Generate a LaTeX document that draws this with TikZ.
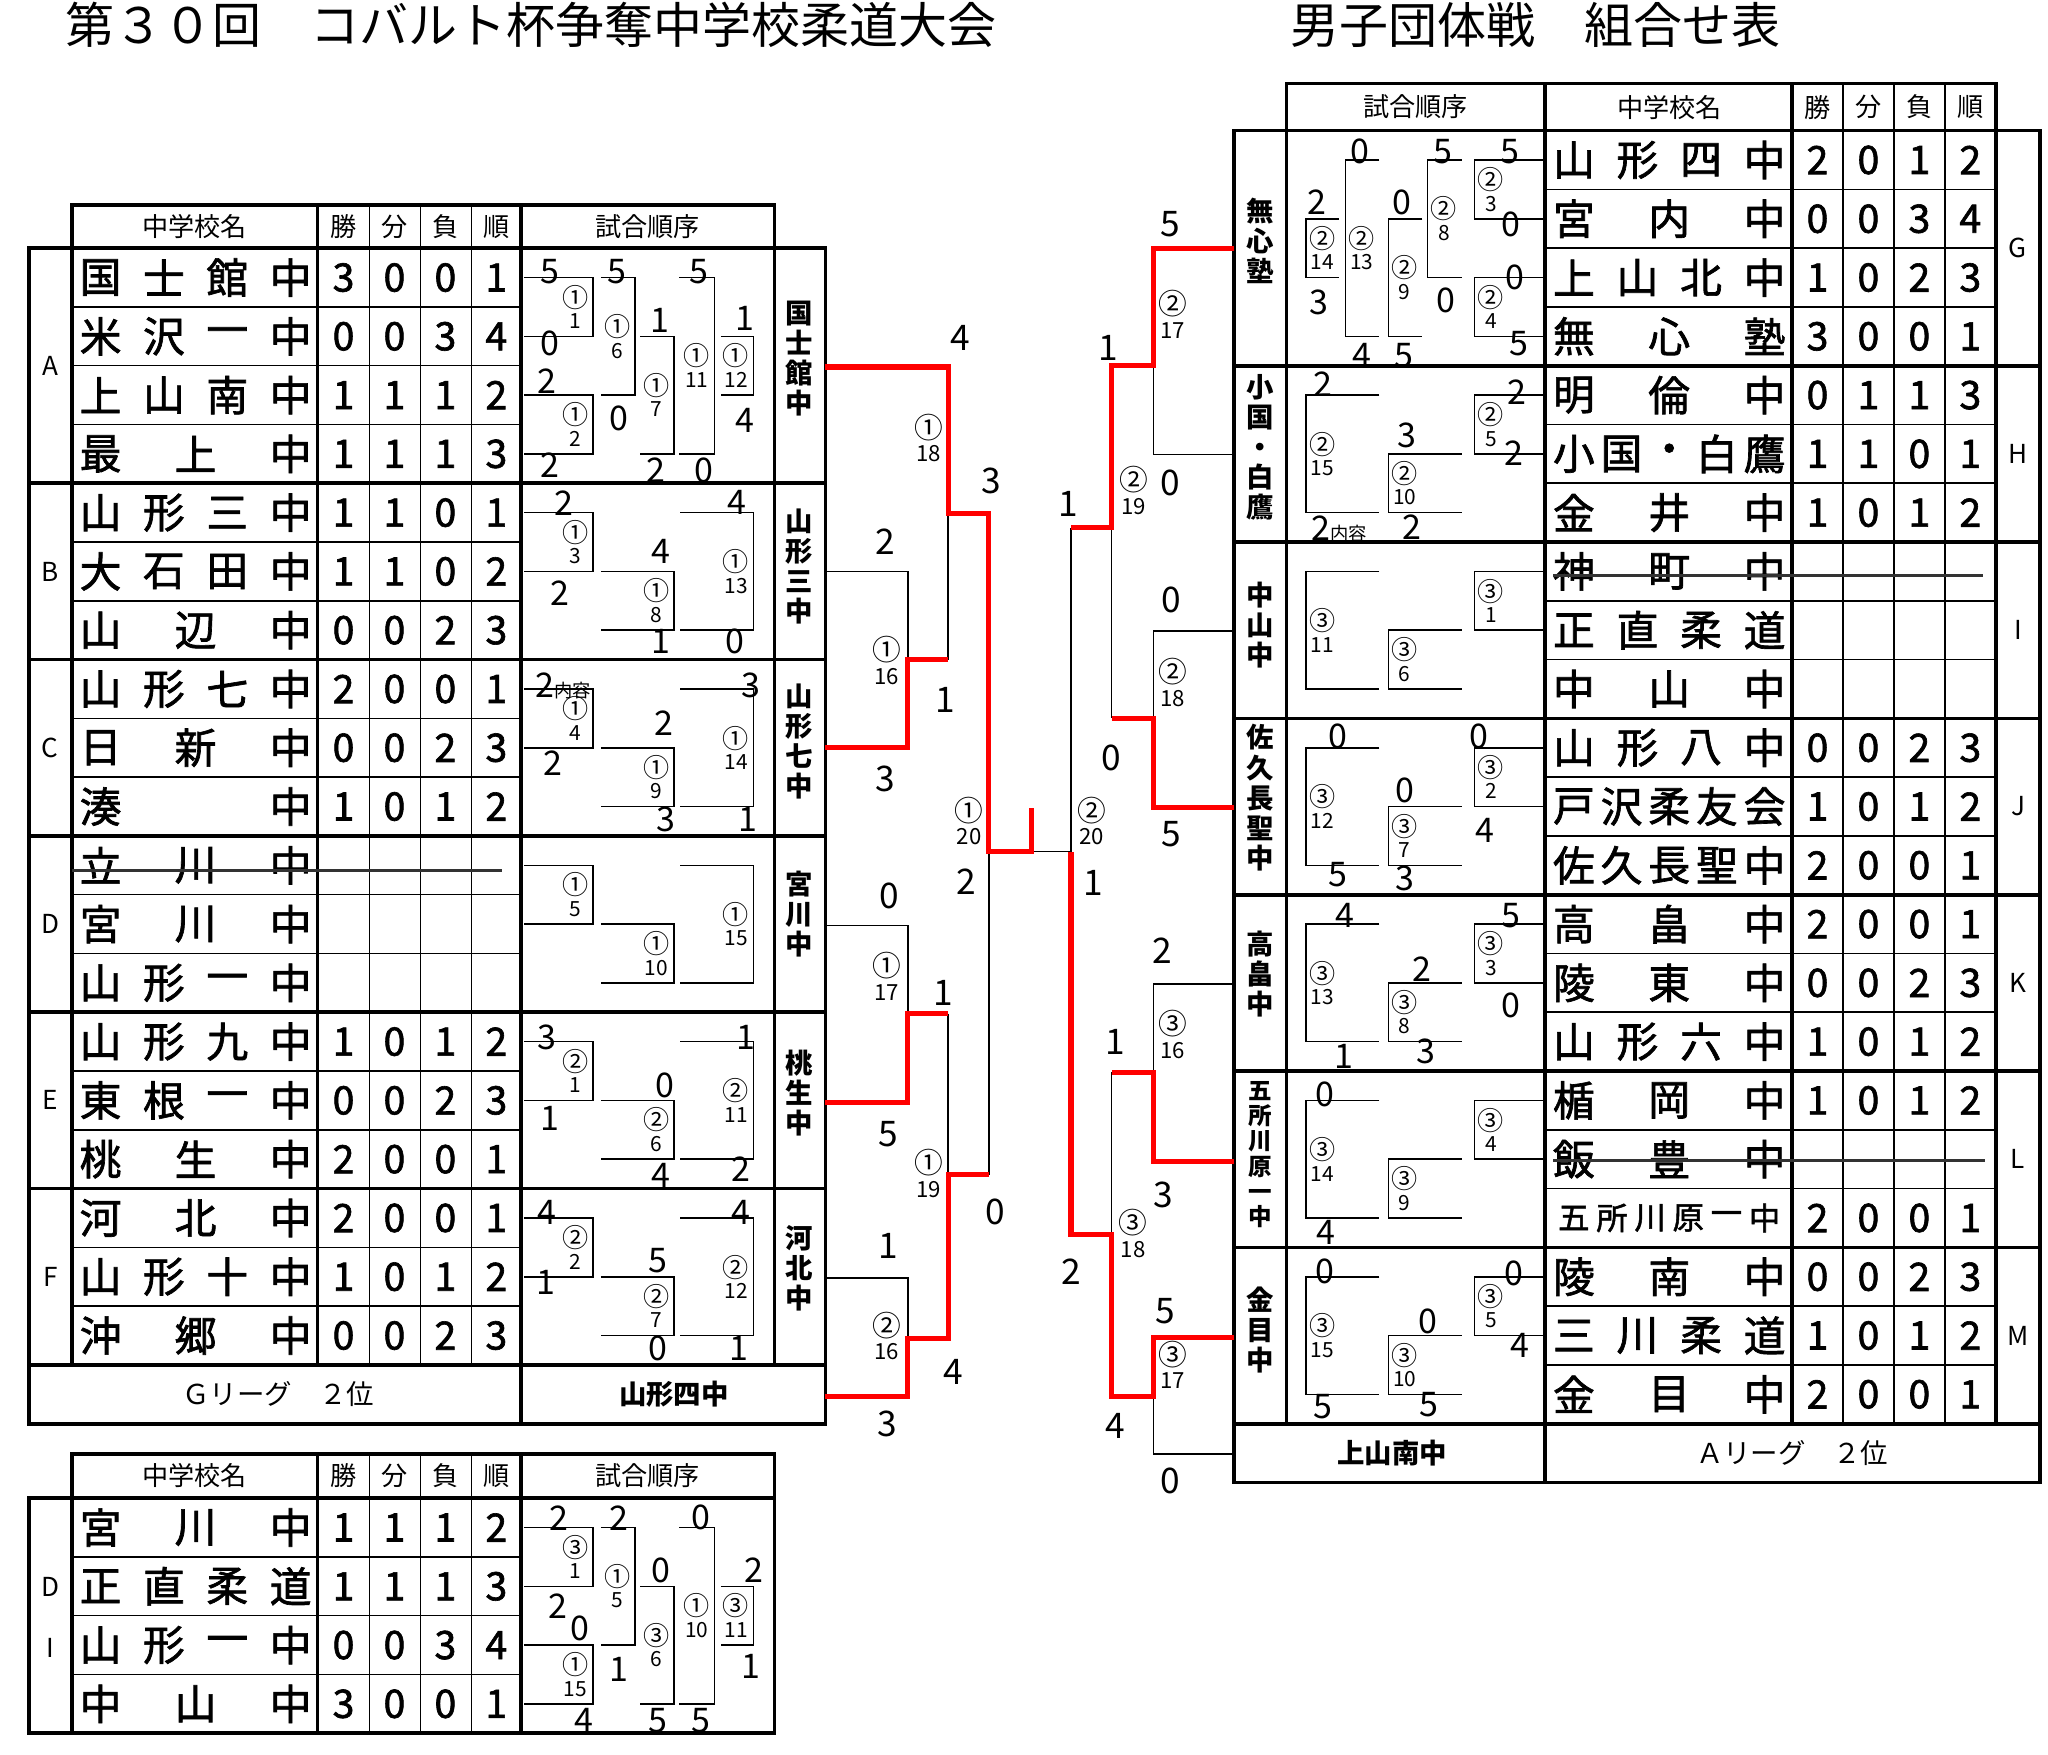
\documentclass[tikz,border=0pt]{standalone}
\usepackage{fontspec}
\setmainfont{Noto Sans CJK JP}
\newfontfamily\heavyfont{Noto Sans CJK JP}[FakeBold=1.6]
\definecolor{winred}{RGB}{255,0,0}
\newcommand{\tablecirc}{\fontsize{20}{16}\selectfont}
\newcommand{\centralcirc}{\fontsize{22}{18}\selectfont}

\tikzset{
  thickrule/.style={line width=2.8pt},
  thinrule/.style={line width=1.2pt},
  bracket/.style={line width=1.2pt},
  winline/.style={line width=4pt, draw=winred},
  strike/.style={line width=2.6pt, draw=black!80},
  schoolname/.style={inner sep=0pt, font=\heavyfont\fontsize{32}{32}\selectfont},
  smallname/.style={inner sep=0pt, font=\heavyfont\fontsize{24}{24}\selectfont},
  stat/.style={inner sep=0pt, font=\heavyfont\fontsize{30}{30}\selectfont},
  score/.style={inner sep=0pt, font=\fontsize{26}{26}\selectfont},
  bigscore/.style={inner sep=0pt, font=\fontsize{27}{27}\selectfont},
  matchno/.style={inner sep=0pt, align=center, font=\fontsize{16}{16.5}\selectfont},
  bigmatchno/.style={inner sep=0pt, align=center, font=\fontsize{17}{18}\selectfont},
  colhead/.style={inner sep=0pt, font=\fontsize{20}{20}\selectfont},
  vname/.style={inner sep=0pt, align=center, font=\bfseries\fontsize{21}{23}\selectfont},
  rowwin/.style={inner sep=0pt, font=\bfseries\fontsize{21}{21}\selectfont},
  league/.style={inner sep=0pt, font=\fontsize{21}{21}\selectfont},
  grp/.style={inner sep=0pt, font=\fontsize{20}{20}\selectfont},
  heading/.style={inner sep=0pt, anchor=west, font=\fontsize{37.5}{37.5}\selectfont},
}

% school name spread over its cell: [style] tag, x first, x last, y, count, chars
\newcommand{\namerow}[7][schoolname]{%
  \foreach \ch [count=\i] in {#7}
    \node[#1] (#2-\i) at ({#3+(\i-1)*(#4-#3)/(#6-1)},#5) {\ch};
}
% won / drawn / lost / place
\newcommand{\statrow}[4]{%
  \foreach \v [count=\i] in {#4}
    \node[stat] (#1-\i) at ({#2+(\i-1)*39},#3) {\v};
}
\newcommand{\lrow}[5]{\namerow{#1}{77}{222.5}{#2}{#3}{#4}\statrow{#1s}{263}{#2}{#5}}
\newcommand{\rrow}[5]{\namerow{#1}{1205}{1351}{#2}{#3}{#4}\statrow{#1s}{1391.5}{#2}{#5}}
% league bracket, open to the left / to the right
\newcommand{\lbr}[7]{%
  \coordinate (#1-top) at (#2,#4);
  \coordinate (#1-bot) at (#2,#5);
  \draw[bracket] (#1-top) -| (#3,#5) -- (#1-bot);
  \node[matchno] (#1) at ({#3-13.5},{(#4+#5)/2}) {{\tablecirc #6}\\#7};
}
\newcommand{\rbr}[7]{%
  \coordinate (#1-top) at (#3,#4);
  \coordinate (#1-bot) at (#3,#5);
  \draw[bracket] (#1-top) -| (#2,#5) -- (#1-bot);
  \node[matchno] (#1) at ({#2+12.5},{(#4+#5)/2}) {{\tablecirc #6}\\#7};
}

\begin{document}
\begin{tikzpicture}[x=1pt,y=-1pt]
  \useasboundingbox (0,0) rectangle (1568,1343);
  \fill[white] (0,0) rectangle (1568,1343);

  \node[heading] (title1) at (50,19) {第３０回　コバルト杯争奪中学校柔道大会};
  \node[heading] (title2) at (988,19) {男子団体戦　組合せ表};

  % left table
  \draw[thickrule] (55,157) rectangle (593,190);
  \draw[thickrule] (22,190) rectangle (632,1090);
  \foreach \x in {55,243,593} \draw[thickrule] (\x,157) -- (\x,1045);
  \draw[thickrule] (399,157) -- (399,1090);
  \foreach \x in {283,322,361} \draw[thinrule] (\x,157) -- (\x,1045);
  \foreach \y in {370,505,640,775,910,1045} \draw[thickrule] (22,\y) -- (632,\y);
  \foreach \y in {235,280,325,415,460,550,595,685,730,820,865,955,1000}
    \draw[thinrule] (55,\y) -- (399,\y);

  \node[colhead] (lhname) at (149,173.5) {中学校名};
  \foreach \t [count=\i] in {勝,分,負,順}
    \node[colhead] (lhs\i) at ({263+(\i-1)*39},173.5) {\t};
  \node[colhead] (lhorder) at (496,173.5) {試合順序};
  \foreach \g/\y in {A/280,B/437.5,C/572.5,D/707.5,E/842.5,F/977.5}
    \node[grp] (g\g) at (38.5,\y) {\g};

  \lrow{L1}{212.5}{4}{国,士,館,中}{3,0,0,1}
  \lrow{L2}{257.5}{4}{米,沢,一,中}{0,0,3,4}
  \lrow{L3}{302.5}{4}{上,山,南,中}{1,1,1,2}
  \lrow{L4}{347.5}{3}{最,上,中}{1,1,1,3}
  \lrow{L5}{392.5}{4}{山,形,三,中}{1,1,0,1}
  \lrow{L6}{437.5}{4}{大,石,田,中}{1,1,0,2}
  \lrow{L7}{482.5}{3}{山,辺,中}{0,0,2,3}
  \lrow{L8}{527.5}{4}{山,形,七,中}{2,0,0,1}
  \lrow{L9}{572.5}{3}{日,新,中}{0,0,2,3}
  \lrow{L10}{617.5}{2}{湊,中}{1,0,1,2}
  \namerow{L11}{77}{222.5}{662.5}{3}{立,川,中}
  \namerow{L12}{77}{222.5}{707.5}{3}{宮,川,中}
  \namerow{L13}{77}{222.5}{752.5}{4}{山,形,一,中}
  \lrow{L14}{797.5}{4}{山,形,九,中}{1,0,1,2}
  \lrow{L15}{842.5}{4}{東,根,一,中}{0,0,2,3}
  \lrow{L16}{887.5}{3}{桃,生,中}{2,0,0,1}
  \lrow{L17}{932.5}{3}{河,北,中}{2,0,0,1}
  \lrow{L18}{977.5}{4}{山,形,十,中}{1,0,1,2}
  \lrow{L19}{1022.5}{3}{沖,郷,中}{0,0,2,3}
  \coordinate (cutL1) at (55,666.5);
  \coordinate (cutL2) at (384,666.5);
  \draw[strike] (cutL1) -- (cutL2);

  \lbr{m1a}{401}{454}{212.5}{257.5}{①}{1}
  \lbr{m1b}{401}{454}{302.5}{347.5}{①}{2}
  \lbr{m1f}{460}{486}{212.5}{302.5}{①}{6}
  \lbr{m1g}{490}{516}{257.5}{347.5}{①}{7}
  \lbr{m1k}{520}{547}{212.5}{347.5}{①}{11}
  \lbr{m1l}{552}{577}{257.5}{302.5}{①}{12}
  \foreach \a/\y/\ca/\na/\cb/\nb/\cc/\nc in {
      B/392.5/①/3/①/8/①/13, C/527.5/①/4/①/9/①/14,
      D/662.5/①/5/①/10/①/15, E/797.5/②/1/②/6/②/11,
      F/932.5/②/2/②/7/②/12} {
    \lbr{m\a x}{401}{454}{\y}{\y+45}{\ca}{\na}
    \lbr{m\a y}{460}{516}{\y+45}{\y+90}{\cb}{\nb}
    \lbr{m\a z}{521}{577}{\y}{\y+90}{\cc}{\nc}
  }
  \foreach \x/\y/\s [count=\i] in {
      421/208/5, 421/263/0, 419/292/2, 421/356/2, 472/208/5, 474/320/0,
      505/245/1, 502/360/2, 535/208/5, 539/360/0, 570/244/1, 570/322/4,
      432/385/2, 564/385/4, 429/454/2, 506/422/4, 506/491/1, 563/491/0,
      575/525/3, 508/554/2, 423/584/2, 510/627/3, 573/627/1,
      419/794/3, 571/794/1, 509/831/0, 421/856/1, 506/900/4, 567/895/2,
      419/928/4, 567/928/4, 504/965/5, 418/982/1, 504/1032/0, 566/1032/1}
    \node[score] (ls\i) at (\x,\y) {\s};
  \node[score, anchor=west] (lsnote) at (410,525) {2{\fontsize{14}{14}\selectfont 内容}};

  \node[vname] (wA) at (612,274.5) {国\\士\\館\\中};
  \node[vname] (wB) at (612,433.5) {山\\形\\三\\中};
  \node[vname] (wC) at (612,568) {山\\形\\七\\中};
  \node[vname] (wD) at (612,700) {宮\\川\\中};
  \node[vname] (wE) at (612,837) {桃\\生\\中};
  \node[vname] (wF) at (612,971) {河\\北\\中};
  \node[league] (lgG) at (213,1067.5) {Ｇリーグ　２位};
  \node[rowwin] (lg4) at (516,1067.5) {山形四中};

  % left table, play-off of D and I
  \draw[thickrule] (55,1113) rectangle (593,1147);
  \draw[thickrule] (22,1147) rectangle (593,1327);
  \foreach \x in {55,243,399} \draw[thickrule] (\x,1113) -- (\x,1327);
  \foreach \x in {283,322,361} \draw[thinrule] (\x,1113) -- (\x,1327);
  \foreach \y in {1192,1237,1282} \draw[thinrule] (55,\y) -- (399,\y);
  \node[colhead] (bhname) at (149,1130) {中学校名};
  \foreach \t [count=\i] in {勝,分,負,順}
    \node[colhead] (bhs\i) at ({263+(\i-1)*39},1130) {\t};
  \node[colhead] (bhorder) at (496,1130) {試合順序};
  \node[grp] (gD2) at (38.5,1215) {D};
  \node[grp] (gI2) at (38.5,1262) {I};
  \lrow{B1}{1169.5}{3}{宮,川,中}{1,1,1,2}
  \lrow{B2}{1214.5}{4}{正,直,柔,道}{1,1,1,3}
  \lrow{B3}{1259.5}{4}{山,形,一,中}{0,0,3,4}
  \lrow{B4}{1304.5}{3}{中,山,中}{3,0,0,1}
  \lbr{p1}{401}{454}{1169.5}{1214.5}{③}{1}
  \lbr{p2}{401}{454}{1259.5}{1304.5}{①}{15}
  \lbr{p3}{460}{486}{1169.5}{1259.5}{①}{5}
  \lbr{p4}{490}{516}{1214.5}{1304.5}{③}{6}
  \lbr{p5}{520}{547}{1169.5}{1304.5}{①}{10}
  \lbr{p6}{552}{577}{1214.5}{1259.5}{③}{11}
  \foreach \x/\y/\s [count=\i] in {
      428/1162/2, 474/1162/2, 537/1162/0, 506/1202/0, 577/1202/2, 427/1230/2,
      444/1247/0, 474/1278/1, 575/1276/1, 447/1317/4, 504/1317/5, 537/1317/5}
    \node[score] (bs\i) at (\x,\y) {\s};

  % right table
  \draw[thickrule] (985,64) rectangle (1528,100);
  \draw[thickrule] (945,100) rectangle (1562,1135);
  \foreach \x in {985,1372,1528} \draw[thickrule] (\x,64) -- (\x,1090);
  \draw[thickrule] (1183,64) -- (1183,1135);
  \foreach \x in {1411,1450,1489} \draw[thinrule] (\x,64) -- (\x,1090);
  \foreach \y in {280,415,550,685,820,955,1090} \draw[thickrule] (945,\y) -- (1562,\y);
  \foreach \y in {145,190,235,325,370,460,505,595,640,730,775,865,910,1000,1045}
    \draw[thinrule] (1183,\y) -- (1528,\y);

  \node[colhead] (rhorder) at (1084,82) {試合順序};
  \node[colhead] (rhname) at (1278,82) {中学校名};
  \foreach \t [count=\i] in {勝,分,負,順}
    \node[colhead] (rhs\i) at ({1391.5+(\i-1)*39},82) {\t};
  \foreach \g/\y in {G/190,H/347.5,I/482.5,J/617.5,K/752.5,L/887.5,M/1022.5}
    \node[grp] (g\g) at (1545,\y) {\g};

  \rrow{R1}{122.5}{4}{山,形,四,中}{2,0,1,2}
  \rrow{R2}{167.5}{3}{宮,内,中}{0,0,3,4}
  \rrow{R3}{212.5}{4}{上,山,北,中}{1,0,2,3}
  \rrow{R4}{257.5}{3}{無,心,塾}{3,0,0,1}
  \rrow{R5}{302.5}{3}{明,倫,中}{0,1,1,3}
  \rrow{R6}{347.5}{5}{小,国,・,白,鷹}{1,1,0,1}
  \rrow{R7}{392.5}{3}{金,井,中}{1,0,1,2}
  \namerow{R8}{1205}{1351}{437.5}{3}{神,町,中}
  \namerow{R9}{1205}{1351}{482.5}{4}{正,直,柔,道}
  \namerow{R10}{1205}{1351}{527.5}{3}{中,山,中}
  \rrow{R11}{572.5}{4}{山,形,八,中}{0,0,2,3}
  \rrow{R12}{617.5}{5}{戸,沢,柔,友,会}{1,0,1,2}
  \rrow{R13}{662.5}{5}{佐,久,長,聖,中}{2,0,0,1}
  \rrow{R14}{707.5}{3}{高,畠,中}{2,0,0,1}
  \rrow{R15}{752.5}{3}{陵,東,中}{0,0,2,3}
  \rrow{R16}{797.5}{4}{山,形,六,中}{1,0,1,2}
  \rrow{R17}{842.5}{3}{楯,岡,中}{1,0,1,2}
  \namerow{R18}{1205}{1351}{887.5}{3}{飯,豊,中}
  \namerow[smallname]{R19}{1205}{1351}{932.5}{6}{五,所,川,原,一,中}
  \statrow{R19s}{1391.5}{932.5}{2,0,0,1}
  \rrow{R20}{977.5}{3}{陵,南,中}{0,0,2,3}
  \rrow{R21}{1022.5}{4}{三,川,柔,道}{1,0,1,2}
  \rrow{R22}{1067.5}{3}{金,目,中}{2,0,0,1}
  \coordinate (cutR1) at (1189,440.5);
  \coordinate (cutR2) at (1518,440.5);
  \coordinate (cutR3) at (1189,888.5);
  \coordinate (cutR4) at (1520,888.5);
  \draw[strike] (cutR1) -- (cutR2);
  \draw[strike] (cutR3) -- (cutR4);

  \rbr{m2c}{1129}{1183}{122.5}{167.5}{②}{3}
  \rbr{m2d}{1129}{1183}{212.5}{257.5}{②}{4}
  \rbr{m2h}{1093}{1119}{122.5}{212.5}{②}{8}
  \rbr{m2i}{1063}{1089}{167.5}{257.5}{②}{9}
  \rbr{m2m}{1030}{1056}{122.5}{257.5}{②}{13}
  \rbr{m2n}{1000}{1025}{167.5}{212.5}{②}{14}
  \foreach \a/\y/\ca/\na/\cb/\nb/\cc/\nc in {
      H/302.5/②/5/②/10/②/15, I/437.5/③/1/③/6/③/11,
      J/572.5/③/2/③/7/③/12, K/707.5/③/3/③/8/③/13,
      L/842.5/③/4/③/9/③/14, M/977.5/③/5/③/10/③/15} {
    \rbr{m\a x}{1129}{1183}{\y}{\y+45}{\ca}{\na}
    \rbr{m\a y}{1063}{1119}{\y+45}{\y+90}{\cb}{\nb}
    \rbr{m\a z}{1000}{1056}{\y}{\y+90}{\cc}{\nc}
  }
  \foreach \x/\y/\s [count=\i] in {
      1041/115.7/0, 1105/115.7/5, 1156/115.7/5, 1008/154.8/2, 1073/154.8/0,
      1157/172/0, 1160/212.7/0, 1010/231.5/3, 1107/229.9/0, 1163/262.8/5,
      1043/272.2/4, 1075/272.2/5,
      1013/294/2, 1161/300.4/2, 1077/333.2/3, 1159/347.3/2, 1081/403.6/2,
      1024/563.7/0, 1132/563.7/0, 1076/604.8/0, 1137/635.4/4, 1024/669.5/5, 1076/672.2/3,
      1030/700.9/4, 1157/700.9/5, 1089/742/2, 1157/769.4/0, 1029/808.6/1, 1092/804.7/3,
      1014/838/0, 1015/943.8/4,
      1014/973.2/0, 1159/975.2/0, 1093/1011.6/0, 1164/1030/4, 1013/1077/5, 1094/1075.1/5}
    \node[score] (rs\i) at (\x,\y) {\s};
  \node[score, anchor=west] (rsnote) at (1004,405) {2{\fontsize{14}{14}\selectfont 内容}};

  \node[vname] (wG) at (965,184.5) {無\\心\\塾};
  \node[vname] (wH) at (965,342.7) {小\\国\\・\\白\\鷹};
  \node[vname] (wI) at (965,478.8) {中\\山\\中};
  \node[vname] (wJ) at (965,610.7) {佐\\久\\長\\聖\\中};
  \node[vname] (wK) at (965,746) {高\\畠\\中};
  \node[vname, font=\bfseries\fontsize{18}{19.2}\selectfont] (wL) at (965,884) {五\\所\\川\\原\\一\\中};
  \node[vname] (wM) at (965,1018) {金\\目\\中};
  \node[rowwin] (lgK) at (1066,1112.5) {上山南中};
  \node[league] (lgA) at (1372,1112.5) {Ａリーグ　２位};

  % final tournament
  \coordinate (kokushi) at (632,281);
  \coordinate (yamagata3) at (632,437.5);
  \coordinate (yamagata7) at (632,572.5);
  \coordinate (miyakawa) at (632,708.5);
  \coordinate (monou) at (632,844);
  \coordinate (kahoku) at (632,978.5);
  \coordinate (yamagata4) at (632,1069);
  \coordinate (mushin) at (945,190);
  \coordinate (oguni) at (945,348);
  \coordinate (nakayama) at (945,483);
  \coordinate (saku) at (945,618);
  \coordinate (takahata) at (945,753.5);
  \coordinate (goshogawara) at (945,889);
  \coordinate (kaneme) at (945,1024);
  \coordinate (kaminoyama) at (945,1113);

  \draw[bracket] (yamagata3) -| (695,505);
  \draw[bracket] (726,393) -- (726,505);
  \draw[bracket] (miyakawa) -| (695,776);
  \draw[bracket] (kahoku) -| (695,1025);
  \draw[bracket] (726,776) -- (726,899.5);
  \draw[bracket] (757,652) -- (757,899.5);
  \draw[bracket] (790,652) -- (820,652);
  \draw[bracket] (oguni) -| (883,280);
  \draw[bracket] (nakayama) -| (883,550);
  \draw[bracket] (851,404) -- (851,550);
  \draw[bracket] (820,404) -- (820,652);
  \draw[bracket] (takahata) -| (883,821);
  \draw[bracket] (851,821) -- (851,945);
  \draw[bracket] (kaminoyama) -| (883,1069);

  \draw[winline] (kokushi) -| (726,393) -- (757,393) -- (757,652) -- (790,652) -- (790,619);
  \draw[winline] (yamagata7) -| (695,505) -- (726,505);
  \draw[winline] (monou) -| (695,776) -- (726,776);
  \draw[winline] (yamagata4) -| (695,1025) -- (726,1025) -- (726,899.5) -- (757,899.5);
  \draw[winline] (mushin) -| (883,280) -- (851,280) -- (851,404) -- (820,404);
  \draw[winline] (saku) -| (883,550) -- (851,550);
  \draw[winline] (goshogawara) -| (883,821) -- (851,821);
  \draw[winline] (kaneme) -| (883,1069) -- (851,1069) -- (851,945) -- (820,945) -- (820,652);

  \foreach \x/\y/\c/\n [count=\i] in {
      711/335.5/①/18, 679/505.5/①/16, 742/628.5/①/20, 679/747.5/①/17,
      711/898.5/①/19, 679/1023/②/16, 898/240.5/②/17, 868/375.5/②/19,
      898/522.5/②/18, 836/628.5/②/20, 898/792/③/16, 867.6/944.5/③/18,
      898/1045/③/17}
    \node[bigmatchno] (fm\i) at (\x,\y) {{\centralcirc\c}\\\n};
  \foreach \x/\y/\s [count=\i] in {
      735/259/4, 759/368.5/3, 678/414.6/2, 724/536/1, 678/596/3, 740/675/2,
      681/686/0, 722/760/1, 680/868/5, 762/928/0, 680/954/1, 730/1050/4,
      679/1090/3,
      896/172/5, 848.5/266/1, 896/370/0, 818/385.6/1, 897/459/0, 851/580.5/0,
      897/638.6/5, 837/676/1, 890/728/2, 853.6/798/1, 890.6/915/3, 820.4/974/2,
      892/1004/5, 853.6/1092/4, 895.7/1134/0}
    \node[bigscore] (fs\i) at (\x,\y) {\s};
\end{tikzpicture}
\end{document}
